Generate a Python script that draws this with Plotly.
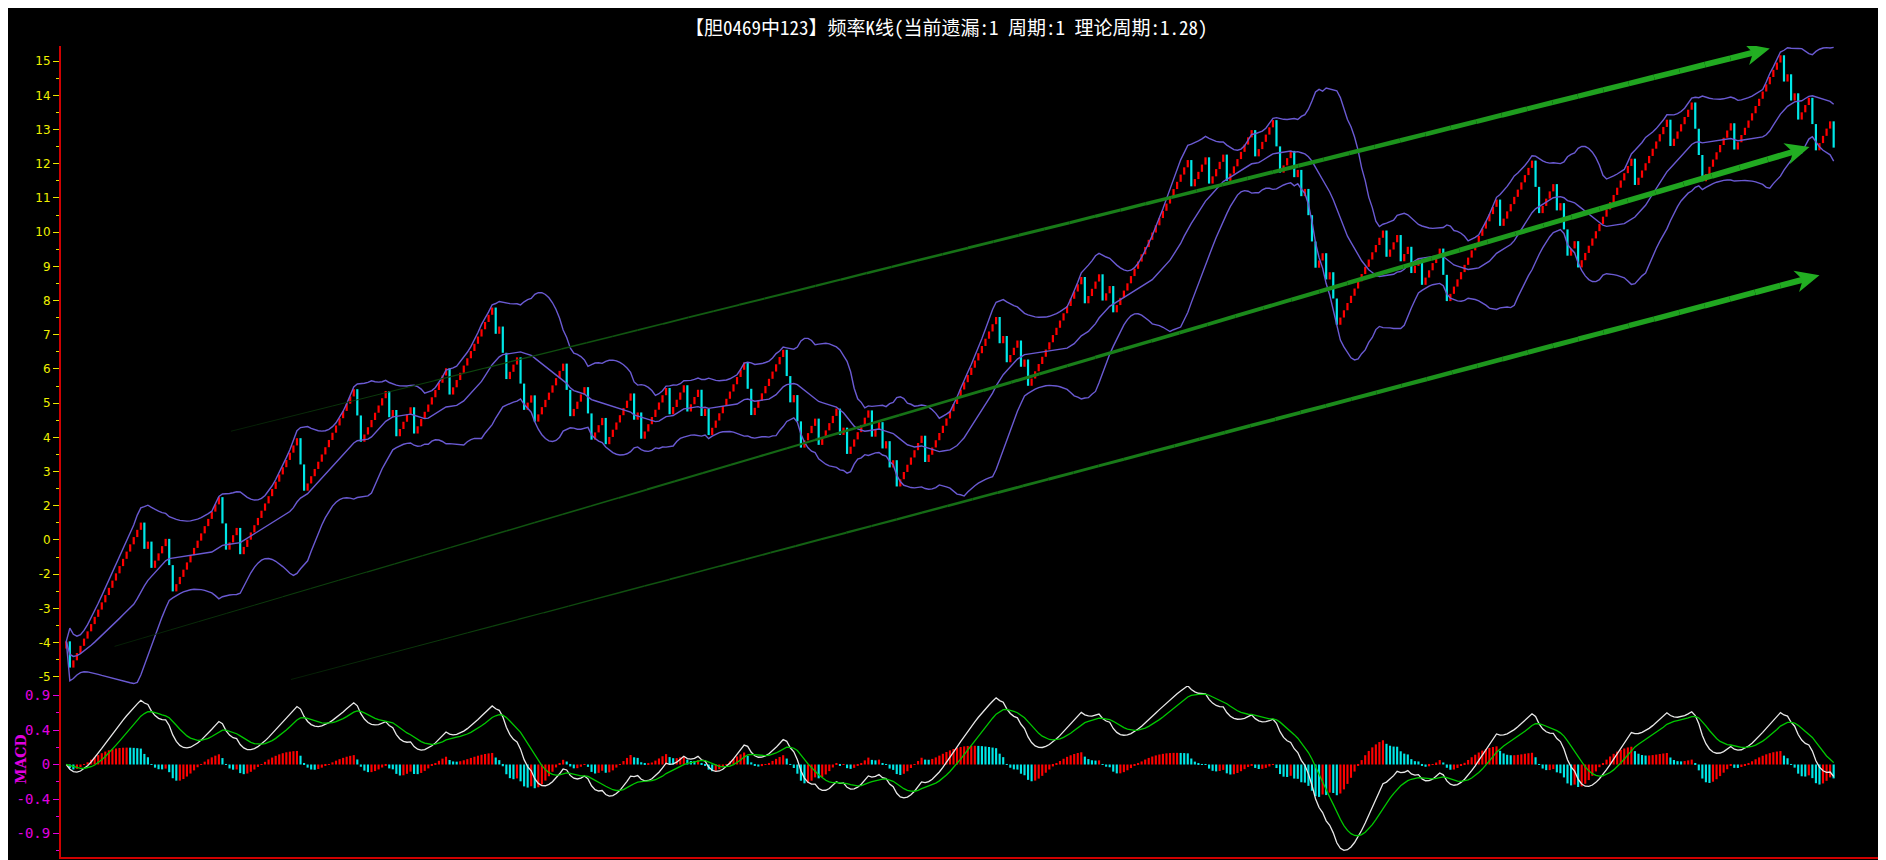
import numpy as np
import pandas as pd
import plotly.graph_objects as go

TITLE_PARTS = ["【胆0469中123】频率K线(当前遗漏:1 周期:1 理论周期:1.28)"]

# Runs of bars: positive = consecutive red (rising) bars,
# negative = consecutive cyan (falling) bars.
RUNS = [1, -1, 20, -1, 1, -1, 4, -2, 13, -2, 3, -1, 16, -2, 14, -2, 7, -1, 1, -1,
        4, -1, 9, -1, 12, -1, 1, -2, 3, -2, 2, -1, 8, -2, 4, -2, 3, -1, 7, -1,
        1, -1, 7, -1, 4, -1, 3, -1, 1, -1, 10, -2, 9, -2, 1, -2, 4, -1, 5, -1,
        1, -1, 6, -1, 2, -1, 1, -1, 1, -1, 7, -1, 20, -1, 1, -1, 3, -1, 1, -1,
        15, -1, 4, -1, 2, -1, 21, -1, 4, -1, 4, -1, 7, -1, 5, -2, 3, -1, 1, -1,
        1, -3, 2, -1, 1, -2, 13, -1, 3, -1, 2, -1, 2, -1, 5, -2, 14, -1, 9, -2,
        4, -1, 1, -2, 2, -1, 15, -1, 9, -1, 6, -3, 8, -1, 13, -1, 1, -1, 1, -1,
        3, -2, 4, -1]
START_LEVEL = -2.175   # open of the first bar (axis position)
UP_STEP = 0.212        # rise of one red bar
DOWN_STEP = 0.768      # fall of one cyan bar

PRICE_TICK_POS = [15, 14, 13, 12, 11, 10, 9, 8, 7, 6, 5, 4, 3, 2, 1, 0, -1, -2, -3]
PRICE_TICK_TEXT = ["15", "14", "13", "12", "11", "10", "9", "8", "7", "6", "5", "4",
                   "3", "2", "0", "-2", "-3", "-4", "-5"]
MACD_TICK_POS = [2, 1, 0, -1, -2]
MACD_TICK_TEXT = ["0.9", "0.4", "0", "-0.4", "-0.9"]

# trend arrows: (bar start, level start, bar tip, level tip)
TREND_LINES = [(46.4, 4.18, 480.0, 15.37),
               (13.6, -2.11, 491.2, 12.49),
               (63.3, -3.08, 494.0, 8.74)]

BOLL_N = 20
BOLL_K = 2
MACD_SCALE = 2.25

# ---------------------------------------------------------------------------
moves = []
for r in RUNS:
    moves += [UP_STEP] * r if r > 0 else [-DOWN_STEP] * (-r)
moves = np.array(moves)
closes = START_LEVEL + np.cumsum(moves)
opens = np.concatenate([[START_LEVEL], closes[:-1]])
idx = np.arange(len(closes))
up = closes > opens

s = pd.Series(closes)
mid = s.rolling(BOLL_N, min_periods=1).mean()
sd = s.rolling(BOLL_N, min_periods=1).std(ddof=0)
upper = mid + BOLL_K * sd
lower = mid - BOLL_K * sd

ema12 = s.ewm(span=12, adjust=False).mean()
ema26 = s.ewm(span=26, adjust=False).mean()
dif = ema12 - ema26
dea = dif.ewm(span=9, adjust=False).mean()
hist = dif - dea
hist_col = ["#ff0000" if (i == 0 or hist[i] >= hist[i - 1]) else "#00e8e8" for i in range(len(hist))]

W, H = 1886, 860
ML, MR, MT, MB = 53, 0, 38, 11
SPLIT = 0.2109
XR = [-1.49, 515.0]
YR = [-3.268, 15.444]
Y2R = [-2.681, 2.2765]
PW, PH = W - ML - MR, H - MT - MB
px_x = PW / (XR[1] - XR[0])
px_y = PH * (1 - SPLIT) / (YR[1] - YR[0])

fig = go.Figure()
BOLL_COLOR = "#6a5ad2"
for band in (upper, mid, lower):
    fig.add_trace(go.Scatter(x=idx, y=band, mode="lines", line=dict(color=BOLL_COLOR, width=1.4),
                             hoverinfo="skip", showlegend=False, xaxis="x", yaxis="y"))

fig.add_trace(go.Bar(x=idx[up], y=(closes - opens)[up], base=opens[up], width=0.62,
                     marker=dict(color="#ff0000", line=dict(width=0)), showlegend=False,
                     xaxis="x", yaxis="y"))
fig.add_trace(go.Bar(x=idx[~up], y=(opens - closes)[~up], base=closes[~up], width=0.62,
                     marker=dict(color="#00e8e8", line=dict(width=0)), showlegend=False,
                     xaxis="x", yaxis="y"))

fig.add_trace(go.Bar(x=idx, y=hist * MACD_SCALE, width=0.6,
                     marker=dict(color=hist_col, line=dict(width=0)), showlegend=False,
                     xaxis="x2", yaxis="y2"))
fig.add_trace(go.Scatter(x=idx, y=dif * MACD_SCALE, mode="lines", line=dict(color="#e8e8e8", width=1.3),
                         showlegend=False, xaxis="x2", yaxis="y2"))
fig.add_trace(go.Scatter(x=idx, y=dea * MACD_SCALE, mode="lines", line=dict(color="#00c800", width=1.3),
                         showlegend=False, xaxis="x2", yaxis="y2"))

shapes = []
c0 = np.array([8, 36, 8])
c1 = np.array([34, 174, 34])
for (x0, y0, x1, y1) in TREND_LINES:
    dxp = (x1 - x0) * px_x
    dyp = (y1 - y0) * px_y
    L = np.hypot(dxp, dyp)
    ux, uy = dxp / L, dyp / L
    head_len, head_w = 24.0, 11.0
    te = 1 - (head_len * 0.6) / L
    n = 60
    for k in range(n):
        t0 = te * k / n
        t1 = te * (k + 1) / n
        tm = (t0 + t1) / 2
        c = (c0 + (c1 - c0) * tm ** 0.75).astype(int)
        w = 0.8 + 5.4 * tm ** 1.4
        shapes.append(dict(type="line", xref="x", yref="y",
                           x0=x0 + (x1 - x0) * t0, y0=y0 + (y1 - y0) * t0,
                           x1=x0 + (x1 - x0) * t1, y1=y0 + (y1 - y0) * t1,
                           line=dict(color="rgb(%d,%d,%d)" % tuple(c), width=w)))
    pts_px = [(0, 0), (-head_len, head_w), (-head_len * 0.72, 0), (-head_len, -head_w)]
    pts = []
    for a, b in pts_px:
        ox = a * ux - b * uy
        oy = a * uy + b * ux
        pts.append((x1 + ox / px_x, y1 + oy / px_y))
    path = "M %f,%f " % pts[0] + " ".join("L %f,%f" % p for p in pts[1:]) + " Z"
    shapes.append(dict(type="path", xref="x", yref="y", path=path,
                       fillcolor="rgb(34,174,34)", line=dict(width=0)))

fig.update_layout(
    width=W, height=H,
    margin=dict(l=ML, r=MR, t=MT, b=MB),
    paper_bgcolor="black", plot_bgcolor="black",
    barmode="overlay",
    showlegend=False,
    shapes=shapes,
    xaxis=dict(domain=[0, 1], range=XR, anchor="y", visible=False, fixedrange=True),
    xaxis2=dict(domain=[0, 1], range=XR, anchor="y2", matches="x", showticklabels=False,
                ticks="", showgrid=False, zeroline=False, showline=True,
                linecolor="#d00000", linewidth=2),
    yaxis=dict(domain=[SPLIT, 1], range=YR, tickmode="array", tickvals=PRICE_TICK_POS,
               ticktext=PRICE_TICK_TEXT, ticks="outside", ticklen=6, tickwidth=1,
               tickcolor="#e8e800", tickfont=dict(color="#f0f000", size=12, family="DejaVu Sans"),
               showgrid=False, zeroline=False, showline=True, linecolor="#d00000", linewidth=2,
               minor=dict(tickmode="array", tickvals=[p - 0.5 for p in PRICE_TICK_POS[:-1]],
                          ticklen=3, tickcolor="#e8e800", ticks="outside", showgrid=False)),
    yaxis2=dict(domain=[0, SPLIT], range=Y2R, tickmode="array", tickvals=MACD_TICK_POS,
                ticktext=MACD_TICK_TEXT, ticks="outside", ticklen=6, tickwidth=1,
                tickcolor="#e000e0", tickfont=dict(color="#e000e0", size=14, family="DejaVu Sans Mono"),
                showgrid=False, zeroline=False, showline=True, linecolor="#d00000", linewidth=2,
                minor=dict(tickmode="array", tickvals=[1.5, 0.5, -0.5, -1.5, -2.5],
                           ticklen=3, tickcolor="#e000e0", ticks="outside", showgrid=False)),
    annotations=[
        dict(text=TITLE_PARTS[0], xref="paper", yref="paper", x=(938 - ML) / PW,
             y=(H - MB - 19) / PH, xanchor="center", yanchor="middle", showarrow=False,
             font=dict(color="white", size=19, family="Noto Sans Mono CJK SC, Noto Sans CJK SC")),
        dict(text="<b>MACD</b>", xref="paper", yref="paper", x=(13 - ML) / PW,
             y=(H - MB - 751) / PH, xanchor="center", yanchor="middle",
             textangle=-90, showarrow=False,
             font=dict(color="#e000e0", size=14, family="DejaVu Serif")),
    ],
)

fig.write_html("out.html")
